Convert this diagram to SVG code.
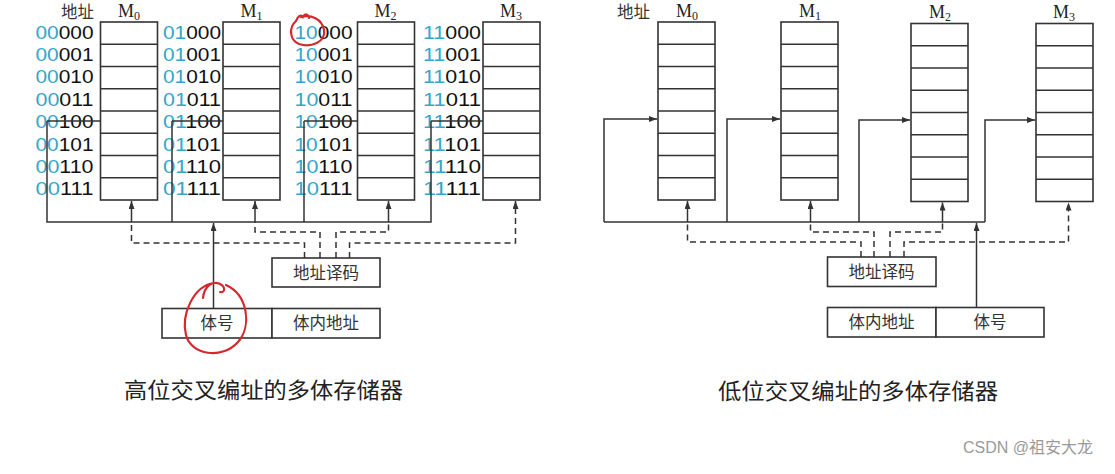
<svg xmlns="http://www.w3.org/2000/svg" width="1115" height="474" viewBox="0 0 1115 474">
<style>
.bg{fill:#fff}
.mem{fill:#fff;stroke:#333;stroke-width:1.6}
.row{stroke:#333;stroke-width:1.3}
.ln{fill:none;stroke:#333;stroke-width:1.5}
.ds{fill:none;stroke:#333;stroke-width:1.5;stroke-dasharray:6 4}
.box{fill:#fff;stroke:#333;stroke-width:1.6}
.cjk{font-family:"Noto Sans CJK SC","Noto Sans",sans-serif;fill:#333;font-size:16.5px}
.m{font-family:"Liberation Serif",serif;fill:#222;font-size:18px}
.addr{font-family:"Liberation Sans",Arial,sans-serif;font-size:19px;fill:#111}
.hi{fill:#35a6c9}
.title{font-family:"Noto Sans CJK SC",sans-serif;font-size:22px;fill:#222}
.red{fill:none;stroke:#d42a2f;stroke-width:2.2;stroke-linecap:round}
</style>
<defs>
<marker id="ah" markerUnits="userSpaceOnUse" markerWidth="9" markerHeight="7" refX="8" refY="3" orient="auto">
<path d="M0,0 L8,3 L0,6 z" fill="#333"/>
</marker>
<g id="cells">
<rect class="mem" x="0" y="0" width="57" height="178"/>
<line class="row" x1="0" y1="22.25" x2="57" y2="22.25"/>
<line class="row" x1="0" y1="44.5" x2="57" y2="44.5"/>
<line class="row" x1="0" y1="66.75" x2="57" y2="66.75"/>
<line class="row" x1="0" y1="89" x2="57" y2="89"/>
<line class="row" x1="0" y1="111.25" x2="57" y2="111.25"/>
<line class="row" x1="0" y1="133.5" x2="57" y2="133.5"/>
<line class="row" x1="0" y1="155.75" x2="57" y2="155.75"/>
</g>
</defs>
<rect class="bg" x="0" y="0" width="1115" height="474"/>

<!-- ===== Left diagram: high-order interleaving ===== -->
<g id="left-header">
<text class="cjk" x="61" y="18" fill="#555">地址</text>
</g>
<g id="L-M0">
<text class="m" x="129" y="17" text-anchor="middle">M<tspan font-size="12" dy="3">0</tspan></text>
<use href="#cells" x="100.5" y="22"/>
</g>
<g id="L-M1">
<text class="m" x="251.5" y="17" text-anchor="middle">M<tspan font-size="12" dy="3">1</tspan></text>
<use href="#cells" x="223" y="22"/>
</g>
<g id="L-M2">
<text class="m" x="385.5" y="17" text-anchor="middle">M<tspan font-size="12" dy="3">2</tspan></text>
<use href="#cells" x="357.5" y="22"/>
</g>
<g id="L-M3">
<text class="m" x="511" y="17" text-anchor="middle">M<tspan font-size="12" dy="3">3</tspan></text>
<use href="#cells" x="483" y="22"/>
</g>

<g id="L-addr0">
<text class="addr" x="35.5" y="38.5" textLength="58" lengthAdjust="spacingAndGlyphs"><tspan class="hi">00</tspan>000</text>
<text class="addr" x="35.5" y="60.9" textLength="58" lengthAdjust="spacingAndGlyphs"><tspan class="hi">00</tspan>001</text>
<text class="addr" x="35.5" y="83.3" textLength="58" lengthAdjust="spacingAndGlyphs"><tspan class="hi">00</tspan>010</text>
<text class="addr" x="35.5" y="105.7" textLength="58" lengthAdjust="spacingAndGlyphs"><tspan class="hi">00</tspan>011</text>
<text class="addr" x="35.5" y="128.1" textLength="58" lengthAdjust="spacingAndGlyphs"><tspan class="hi">00</tspan>100</text>
<text class="addr" x="35.5" y="150.5" textLength="58" lengthAdjust="spacingAndGlyphs"><tspan class="hi">00</tspan>101</text>
<text class="addr" x="35.5" y="172.9" textLength="58" lengthAdjust="spacingAndGlyphs"><tspan class="hi">00</tspan>110</text>
<text class="addr" x="35.5" y="195.3" textLength="58" lengthAdjust="spacingAndGlyphs"><tspan class="hi">00</tspan>111</text>
</g>
<g id="L-addr1">
<text class="addr" x="163" y="38.5" textLength="58" lengthAdjust="spacingAndGlyphs"><tspan class="hi">01</tspan>000</text>
<text class="addr" x="163" y="60.9" textLength="58" lengthAdjust="spacingAndGlyphs"><tspan class="hi">01</tspan>001</text>
<text class="addr" x="163" y="83.3" textLength="58" lengthAdjust="spacingAndGlyphs"><tspan class="hi">01</tspan>010</text>
<text class="addr" x="163" y="105.7" textLength="58" lengthAdjust="spacingAndGlyphs"><tspan class="hi">01</tspan>011</text>
<text class="addr" x="163" y="128.1" textLength="58" lengthAdjust="spacingAndGlyphs"><tspan class="hi">01</tspan>100</text>
<text class="addr" x="163" y="150.5" textLength="58" lengthAdjust="spacingAndGlyphs"><tspan class="hi">01</tspan>101</text>
<text class="addr" x="163" y="172.9" textLength="58" lengthAdjust="spacingAndGlyphs"><tspan class="hi">01</tspan>110</text>
<text class="addr" x="163" y="195.3" textLength="58" lengthAdjust="spacingAndGlyphs"><tspan class="hi">01</tspan>111</text>
</g>
<g id="L-addr2">
<text class="addr" x="294.5" y="38.5" textLength="58" lengthAdjust="spacingAndGlyphs"><tspan class="hi">10</tspan>000</text>
<text class="addr" x="294.5" y="60.9" textLength="58" lengthAdjust="spacingAndGlyphs"><tspan class="hi">10</tspan>001</text>
<text class="addr" x="294.5" y="83.3" textLength="58" lengthAdjust="spacingAndGlyphs"><tspan class="hi">10</tspan>010</text>
<text class="addr" x="294.5" y="105.7" textLength="58" lengthAdjust="spacingAndGlyphs"><tspan class="hi">10</tspan>011</text>
<text class="addr" x="294.5" y="128.1" textLength="58" lengthAdjust="spacingAndGlyphs"><tspan class="hi">10</tspan>100</text>
<text class="addr" x="294.5" y="150.5" textLength="58" lengthAdjust="spacingAndGlyphs"><tspan class="hi">10</tspan>101</text>
<text class="addr" x="294.5" y="172.9" textLength="58" lengthAdjust="spacingAndGlyphs"><tspan class="hi">10</tspan>110</text>
<text class="addr" x="294.5" y="195.3" textLength="58" lengthAdjust="spacingAndGlyphs"><tspan class="hi">10</tspan>111</text>
</g>
<g id="L-addr3">
<text class="addr" x="423" y="38.5" textLength="58" lengthAdjust="spacingAndGlyphs"><tspan class="hi">11</tspan>000</text>
<text class="addr" x="423" y="60.9" textLength="58" lengthAdjust="spacingAndGlyphs"><tspan class="hi">11</tspan>001</text>
<text class="addr" x="423" y="83.3" textLength="58" lengthAdjust="spacingAndGlyphs"><tspan class="hi">11</tspan>010</text>
<text class="addr" x="423" y="105.7" textLength="58" lengthAdjust="spacingAndGlyphs"><tspan class="hi">11</tspan>011</text>
<text class="addr" x="423" y="128.1" textLength="58" lengthAdjust="spacingAndGlyphs"><tspan class="hi">11</tspan>100</text>
<text class="addr" x="423" y="150.5" textLength="58" lengthAdjust="spacingAndGlyphs"><tspan class="hi">11</tspan>101</text>
<text class="addr" x="423" y="172.9" textLength="58" lengthAdjust="spacingAndGlyphs"><tspan class="hi">11</tspan>110</text>
<text class="addr" x="423" y="195.3" textLength="58" lengthAdjust="spacingAndGlyphs"><tspan class="hi">11</tspan>111</text>
</g>

<g id="L-decoder">
<rect class="box" x="272" y="258" width="108" height="29"/>
<text class="cjk" x="326" y="278.5" text-anchor="middle">地址译码</text>
</g>
<g id="L-bankno">
<rect class="box" x="162" y="308.5" width="110" height="29.5"/>
<text class="cjk" x="217" y="329" text-anchor="middle">体号</text>
</g>
<g id="L-inner">
<rect class="box" x="272" y="308.5" width="108" height="29.5"/>
<text class="cjk" x="326" y="329" text-anchor="middle">体内地址</text>
</g>

<g id="L-connectors">
<path class="ln" d="M47,121 H100.5 M172,121 H223 M304,121 H357.5 M431,121 H483"/>
<path class="ln" d="M47,121 V222 H431 V121 M172,121 V222 M304,121 V222"/>
<path class="ln" d="M213.5,308.5 V223" marker-end="url(#ah)"/>
<path class="ln" d="M131.5,222 V201" marker-end="url(#ah)"/>
<path class="ln" d="M255,222 V201" marker-end="url(#ah)"/>
<path class="ln" d="M388.5,222 V201" marker-end="url(#ah)"/>
<path class="ds" d="M304.5,258 V243 H131.5 V222"/>
<path class="ds" d="M320,258 V232 H255 V222"/>
<path class="ds" d="M336,258 V232 H388.5 V222"/>
<path class="ds" d="M349.5,258 V243 H515.5 V201" marker-end="url(#ah)"/>
</g>

<g id="L-annotations">
<path class="red" d="M296,21 C289,27 289,40 299,44 C311,48 326,42 324,30 C322,19 311,14 301,17 M296,21 C298,16 301,14 303,17 C305,13 308,14 309,18"/>
<path class="red" d="M203,298 C204,287 212,280 220,284 C226,287 225,293 220,292 M214,283 C193,286 181,315 186,335 C191,355 222,360 238,342 C252,326 248,295 226,285"/>
</g>

<text class="title" x="124" y="398" textLength="279" lengthAdjust="spacingAndGlyphs">高位交叉编址的多体存储器</text>

<!-- ===== Right diagram: low-order interleaving ===== -->
<g id="right-header">
<text class="cjk" x="617" y="18" fill="#555">地址</text>
</g>
<g id="R-M0">
<text class="m" x="687" y="17" text-anchor="middle">M<tspan font-size="12" dy="3">0</tspan></text>
<use href="#cells" x="658" y="22"/>
</g>
<g id="R-M1">
<text class="m" x="810" y="17" text-anchor="middle">M<tspan font-size="12" dy="3">1</tspan></text>
<use href="#cells" x="781" y="22"/>
</g>
<g id="R-M2">
<text class="m" x="940" y="18" text-anchor="middle">M<tspan font-size="12" dy="3">2</tspan></text>
<use href="#cells" x="911" y="23.5"/>
</g>
<g id="R-M3">
<text class="m" x="1064" y="18" text-anchor="middle">M<tspan font-size="12" dy="3">3</tspan></text>
<use href="#cells" x="1036" y="23.5"/>
</g>

<g id="R-decoder">
<rect class="box" x="827.5" y="257" width="108.5" height="29.5"/>
<text class="cjk" x="881.5" y="277.5" text-anchor="middle">地址译码</text>
</g>
<g id="R-inner">
<rect class="box" x="827.5" y="307.5" width="108.5" height="29.5"/>
<text class="cjk" x="881.5" y="328" text-anchor="middle">体内地址</text>
</g>
<g id="R-bankno">
<rect class="box" x="936" y="307.5" width="108" height="29.5"/>
<text class="cjk" x="990" y="328" text-anchor="middle">体号</text>
</g>

<g id="R-connectors">
<path class="ln" d="M604,222 V119 H657" marker-end="url(#ah)"/>
<path class="ln" d="M727,222 V119 H780" marker-end="url(#ah)"/>
<path class="ln" d="M859,222 V120 H910" marker-end="url(#ah)"/>
<path class="ln" d="M985,222 V120 H1035" marker-end="url(#ah)"/>
<path class="ln" d="M604,222 H985"/>
<path class="ln" d="M976.5,307.5 V223" marker-end="url(#ah)"/>
<path class="ln" d="M687.5,222 V201" marker-end="url(#ah)"/>
<path class="ln" d="M810.5,222 V201" marker-end="url(#ah)"/>
<path class="ln" d="M942.5,222 V202.5" marker-end="url(#ah)"/>
<path class="ds" d="M861,257 V242 H687.5 V222"/>
<path class="ds" d="M874,257 V232 H810.5 V222"/>
<path class="ds" d="M890,257 V232 H942.5 V222"/>
<path class="ds" d="M904,257 V242 H1068.5 V202.5" marker-end="url(#ah)"/>
</g>

<text class="title" x="718" y="399" textLength="280" lengthAdjust="spacingAndGlyphs">低位交叉编址的多体存储器</text>

<text x="963" y="453" font-family="Liberation Sans,Noto Sans CJK SC,sans-serif" font-size="16" fill="#9a9a9a">CSDN @祖安大龙</text>
</svg>
